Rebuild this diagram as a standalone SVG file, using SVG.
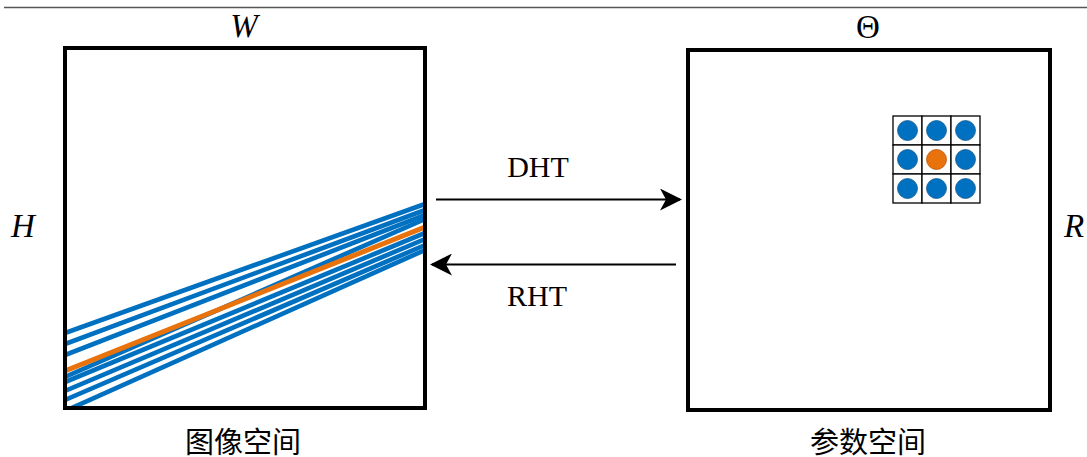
<svg xmlns="http://www.w3.org/2000/svg" width="1087" height="457" viewBox="0 0 1087 457">
  <style>
    .frame { fill: none; stroke: #000; stroke-width: 4; }
    .lbl { font-family: "Liberation Serif", "DejaVu Serif", serif; font-size: 30px; fill: #000; }
    .ital { font-style: italic; font-size: 33px; }
    .big { font-size: 33px; }
    .cjk { font-family: "Liberation Serif", "Noto Sans CJK SC", sans-serif; font-size: 29px; fill: #000; }
    .conn { stroke: #000; stroke-width: 2.2; fill: none; }
    .blue { stroke: #0070C0; stroke-width: 4.6; fill: none; }
    .orange { stroke: #E8720C; stroke-width: 5; fill: none; }
    .cell { fill: #fff; stroke: #000; stroke-width: 1.3; }
    .dotB { fill: #0070C0; stroke: #1A5C8E; stroke-width: 0.8; }
    .dotO { fill: #E8720C; stroke: #B5550A; stroke-width: 0.8; }
  </style>
  <defs>
    <marker id="head" viewBox="0 0 22 22" refX="20" refY="11" markerWidth="22" markerHeight="22" markerUnits="userSpaceOnUse" orient="auto">
      <path d="M0,0 L22,11 L0,22 L6,11 Z" fill="#000"/>
    </marker>
    <clipPath id="imgClip">
      <rect x="65" y="48" width="360" height="360"/>
    </clipPath>
  </defs>

  <rect width="1087" height="457" fill="#fff"/>

  <!-- top rule -->
  <line x1="4" y1="7.5" x2="1087" y2="7.5" stroke="#555" stroke-width="1.3"/>

  <!-- image space -->
  <g id="image-space">
    <g clip-path="url(#imgClip)">
      <line class="blue" x1="65" y1="333" x2="425" y2="204"/>
      <line class="blue" x1="65" y1="344" x2="425" y2="210"/>
      <line class="blue" x1="65" y1="355" x2="425" y2="215"/>
      <line class="blue" x1="65" y1="377" x2="425" y2="219"/>
      <line class="blue" x1="65" y1="382" x2="425" y2="233"/>
      <line class="blue" x1="65" y1="391" x2="425" y2="239"/>
      <line class="blue" x1="65" y1="400" x2="425" y2="245"/>
      <line class="blue" x1="65" y1="411" x2="425" y2="250"/>
      <line class="orange" x1="65" y1="371" x2="425" y2="227"/>
    </g>
    <rect class="frame" x="65" y="48" width="360" height="360"/>
    <text class="lbl ital" x="244" y="37" text-anchor="middle">W</text>
    <text class="lbl ital" x="23" y="237" text-anchor="middle">H</text>
    <text class="cjk" x="243" y="453" text-anchor="middle">图像空间</text>
  </g>

  <!-- parameter space -->
  <g id="param-space">
    <rect class="frame" x="688" y="50" width="362" height="360"/>
    <text class="lbl big" x="868" y="38" text-anchor="middle">Θ</text>
    <text class="lbl ital" x="1074" y="237" text-anchor="middle">R</text>
    <text class="cjk" x="868" y="453" text-anchor="middle">参数空间</text>
  </g>

  <!-- accumulator neighbourhood -->
  <g id="accumulator">
    <rect class="cell" x="893" y="116" width="29" height="29"/>
    <rect class="cell" x="922" y="116" width="29" height="29"/>
    <rect class="cell" x="951" y="116" width="29" height="29"/>
    <rect class="cell" x="893" y="145" width="29" height="29"/>
    <rect class="cell" x="922" y="145" width="29" height="29"/>
    <rect class="cell" x="951" y="145" width="29" height="29"/>
    <rect class="cell" x="893" y="174" width="29" height="29"/>
    <rect class="cell" x="922" y="174" width="29" height="29"/>
    <rect class="cell" x="951" y="174" width="29" height="29"/>
    <circle class="dotB" cx="907.5" cy="130.5" r="10"/>
    <circle class="dotB" cx="936.5" cy="130.5" r="10"/>
    <circle class="dotB" cx="965.5" cy="130.5" r="10"/>
    <circle class="dotB" cx="907.5" cy="159.5" r="10"/>
    <circle class="dotO" cx="936.5" cy="159.5" r="10"/>
    <circle class="dotB" cx="965.5" cy="159.5" r="10"/>
    <circle class="dotB" cx="907.5" cy="188.5" r="10"/>
    <circle class="dotB" cx="936.5" cy="188.5" r="10"/>
    <circle class="dotB" cx="965.5" cy="188.5" r="10"/>
  </g>

  <!-- transforms -->
  <g id="connectors">
    <line class="conn" x1="436" y1="199.5" x2="680" y2="199.5" marker-end="url(#head)"/>
    <line class="conn" x1="676" y1="264.5" x2="432" y2="264.5" marker-end="url(#head)"/>
    <text class="lbl" x="538" y="177" text-anchor="middle">DHT</text>
    <text class="lbl" x="537" y="306" text-anchor="middle">RHT</text>
  </g>
</svg>
